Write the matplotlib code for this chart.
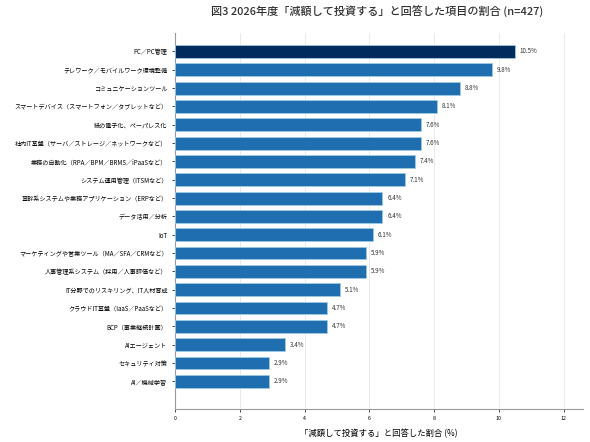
import matplotlib.pyplot as plt

plt.rcParams['font.family'] = ['Noto Sans CJK JP', 'DejaVu Sans']

labels = [
    "PC／PC管理",
    "テレワーク／モバイルワーク環境整備",
    "コミュニケーションツール",
    "スマートデバイス（スマートフォン／タブレットなど）",
    "紙の電子化、ペーパレス化",
    "社内IT基盤（サーバ／ストレージ／ネットワークなど）",
    "業務の自動化（RPA／BPM／BRMS／iPaaSなど）",
    "システム運用管理（ITSMなど）",
    "基幹系システムや業務アプリケーション（ERPなど）",
    "データ活用／分析",
    "IoT",
    "マーケティングや営業ツール（MA／SFA／CRMなど）",
    "人事管理系システム（採用／人事評価など）",
    "IT分野でのリスキリング、IT人材育成",
    "クラウドIT基盤（IaaS／PaaSなど）",
    "BCP（事業継続計画）",
    "AIエージェント",
    "セキュリティ対策",
    "AI／機械学習",
]
values = [10.5, 9.8, 8.8, 8.1, 7.6, 7.6, 7.4, 7.1, 6.4, 6.4, 6.1, 5.9, 5.9, 5.1, 4.7, 4.7, 3.4, 2.9, 2.9]

fig = plt.figure(figsize=(5.9, 4.42), dpi=100)
ax = fig.add_axes([0.297, 0.075, 0.691, 0.85])

pos = list(range(len(values)))
colors = ['#002b5c'] + ['#1f6fb0'] * (len(values) - 1)
ax.barh(pos, values, height=0.7, color=colors, edgecolor='#9ecae1', linewidth=0.6, zorder=3)
for p, v in zip(pos, values):
    ax.text(v + 0.15, p, f"{v}%", va='center', ha='left', fontsize=4.5, color='#333333')

ax.set_yticks(pos)
ax.set_yticklabels(labels, fontsize=4.4)
ax.set_ylim(len(values) + 0.5, -1.0)
ax.set_xlim(0, 12.6)
ax.set_xticks(range(0, 13, 2))
ax.tick_params(axis='x', labelsize=3.8)
ax.tick_params(axis='both', length=2, width=0.5)
ax.grid(axis='x', color='#e6e6e6', linewidth=0.6, zorder=0)
for s in ['top', 'right']:
    ax.spines[s].set_visible(False)
for s in ['left', 'bottom']:
    ax.spines[s].set_color('#999999')
    ax.spines[s].set_linewidth(0.8)

ax.set_xlabel("「減額して投資する」と回答した割合 (%)", fontsize=6, labelpad=5)
fig.text(0.64, 0.972, "図3 2026年度「減額して投資する」と回答した項目の割合 (n=427)",
         ha='center', va='center', fontsize=8, fontweight='medium', color='#333333')

fig.savefig('out.png', dpi=100)
